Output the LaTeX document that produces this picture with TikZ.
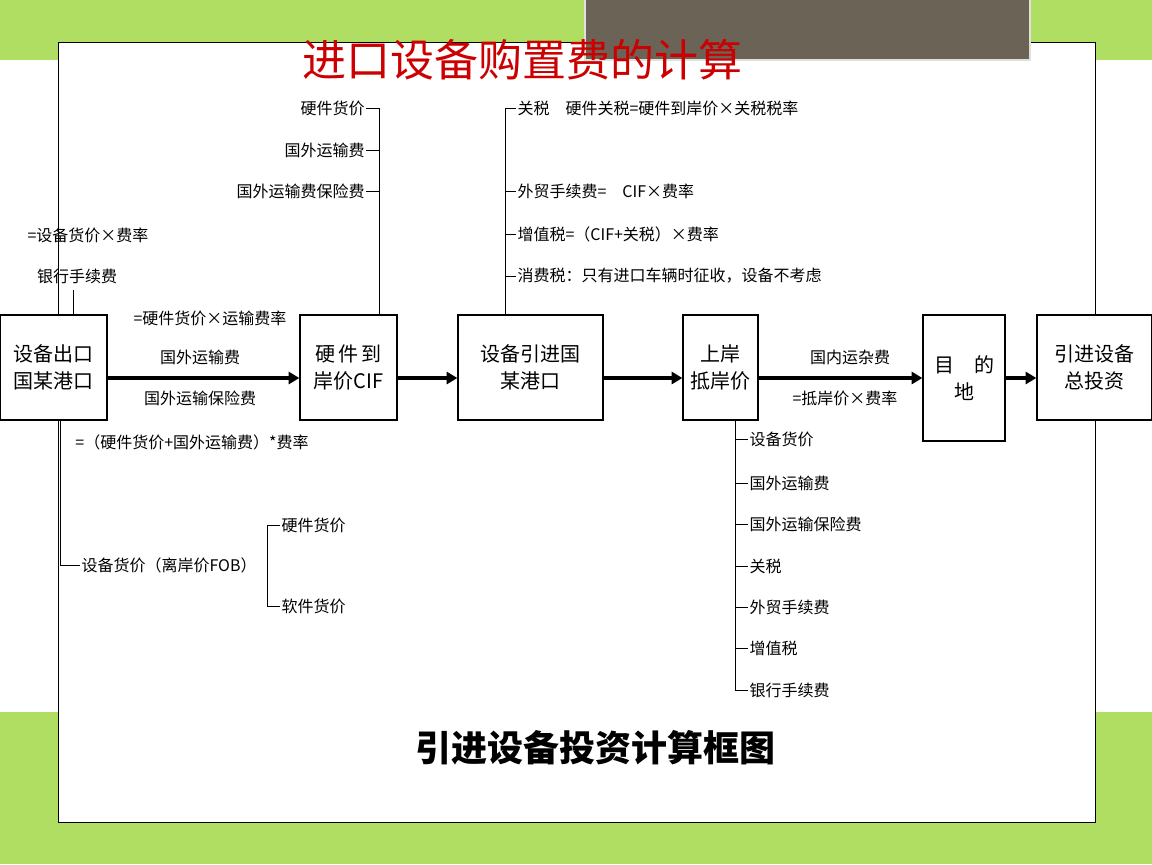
\documentclass[tikz,border=0pt]{standalone}
\usepackage{fontspec}
\setmainfont{Noto Sans CJK SC}
\usetikzlibrary{positioning,arrows.meta}
\definecolor{slidegreen}{RGB}{176,222,98}
\definecolor{darkbar}{RGB}{107,99,86}
\definecolor{titlered}{RGB}{204,0,0}
\tikzset{every picture/.style={line width=0.75pt}}
\tikzset{
  stepbox/.style={draw,line width=1pt,fill=white,inner sep=0pt,align=center,font=\fontsize{15}{20}\selectfont},
  lbl/.style={inner sep=0.75pt,font=\fontsize{12}{14}\selectfont},
  flow/.style={line width=2.6pt,-{Triangle[length=8pt,width=9pt]}},
}
\begin{document}
\begin{tikzpicture}[x=0.75pt,y=0.75pt,yscale=-1,xscale=1]
\useasboundingbox (0,0) rectangle (1152,864);
%Background
\fill[slidegreen] (0,0) rectangle (1152,864);
\fill[white] (0,60) rectangle (1152,712);
\draw[fill=white] (58,42) rectangle (1095,822);
\fill[white] (59,60) rectangle (1094,712);
\draw[fill=darkbar,draw=white!80!darkbar,line width=2pt] (585,-2) rectangle (1030,60);

% Title
\node (title) at (522,60) [inner sep=0pt,text=titlered,font=\fontsize{33}{36}\selectfont] {进口设备购置费的计算};

%Boxes
\node (port) [stepbox,minimum width=80.25pt,minimum height=78.75pt] at (53.5,367.5) {设备出口\\国某港口};
\node (cif) [stepbox,minimum width=72.75pt,minimum height=78.75pt] at (348.5,367.5) {硬\,件\,到\\岸价CIF};
\node (imp) [stepbox,minimum width=108.75pt,minimum height=78.75pt] at (530.5,367.5) {设备引进国\\某港口};
\node (land) [stepbox,minimum width=56.25pt,minimum height=78.75pt] at (720.5,367.5) {上岸\\抵岸价};
\node (dest) [stepbox,minimum width=61.5pt,minimum height=94.5pt] at (964,378) {目\quad 的\\地};
\node (total) [stepbox,minimum width=86.25pt,minimum height=78.75pt] at (1094.5,367.5) {引进设备\\总投资};

%Main arrows
\draw[flow] (port.east |- 0,378) -- (cif.west |- 0,378);
\draw[flow] (cif.east |- 0,378) -- (imp.west |- 0,378);
\draw[flow] (imp.east |- 0,378) -- (land.west |- 0,378);
\draw[flow] (land.east |- 0,378) -- (dest.west |- 0,378);
\draw[flow] (dest.east |- 0,378) -- (total.west |- 0,378);

% Text Node
\node (freight) [lbl] at (210,318) {=硬件货价×运输费率};
\node [lbl] at (200,357) {国外运输费};
\node [lbl] at (200,398) {国外运输保险费};
\node [lbl] at (192,442) {=（硬件货价+国外运输费）*费率};
\node (inland) [lbl] at (850,357) {国内运杂费};
\node [lbl] at (845,398) {=抵岸价×费率};

%Bank fee
\node (bank) [lbl] at (77,276) {银行手续费};
\node [lbl] at (88,235) {=设备货价×费率};
\draw (port.north -| 73,0) -- (73,290);

%FOB
\coordinate (fobturn) at (60,565);
\node (fob) [lbl,anchor=west] at (80,565) {设备货价（离岸价FOB）};
\draw (port.south -| 60,0) -- (fobturn) -- (fob.west);
\node (hw) [lbl,anchor=west] at (280,525) {硬件货价};
\node (sw) [lbl,anchor=west] at (280,606) {软件货价};
\draw (hw.west) -- (267,525) -- (267,606) -- (sw.west);

%CIF parts
\draw (cif.north -| 379,0) -- (379,108);
\foreach \y/\t in {108/硬件货价,150/国外运输费,191/国外运输费保险费}
  \draw (379,\y) -- (366,\y) node [lbl,anchor=east] {\t};

%Taxes
\draw (imp.north -| 505,0) -- (505,108);
\foreach \y/\t in {108/关税\quad 硬件关税=硬件到岸价×关税税率,191/外贸手续费=\quad CIF×费率,234/增值税=（CIF+关税）×费率,276/消费税：只有进口车辆时征收，设备不考虑}
  \draw (505,\y) -- (516,\y) node [lbl,anchor=west] {\t};

%Landed price parts
\draw (land.south -| 735,0) -- (735,690);
\foreach \y/\t in {439/设备货价,483/国外运输费,524/国外运输保险费,566/关税,607/外贸手续费,648/增值税,690/银行手续费}
  \draw (735,\y) -- (748,\y) node [lbl,anchor=west] {\t};

% Caption
\node (caption) at (595,748) [inner sep=0pt,font=\bfseries\fontsize{27}{30}\selectfont] {引进设备投资计算框图};
\end{tikzpicture}
\end{document}
